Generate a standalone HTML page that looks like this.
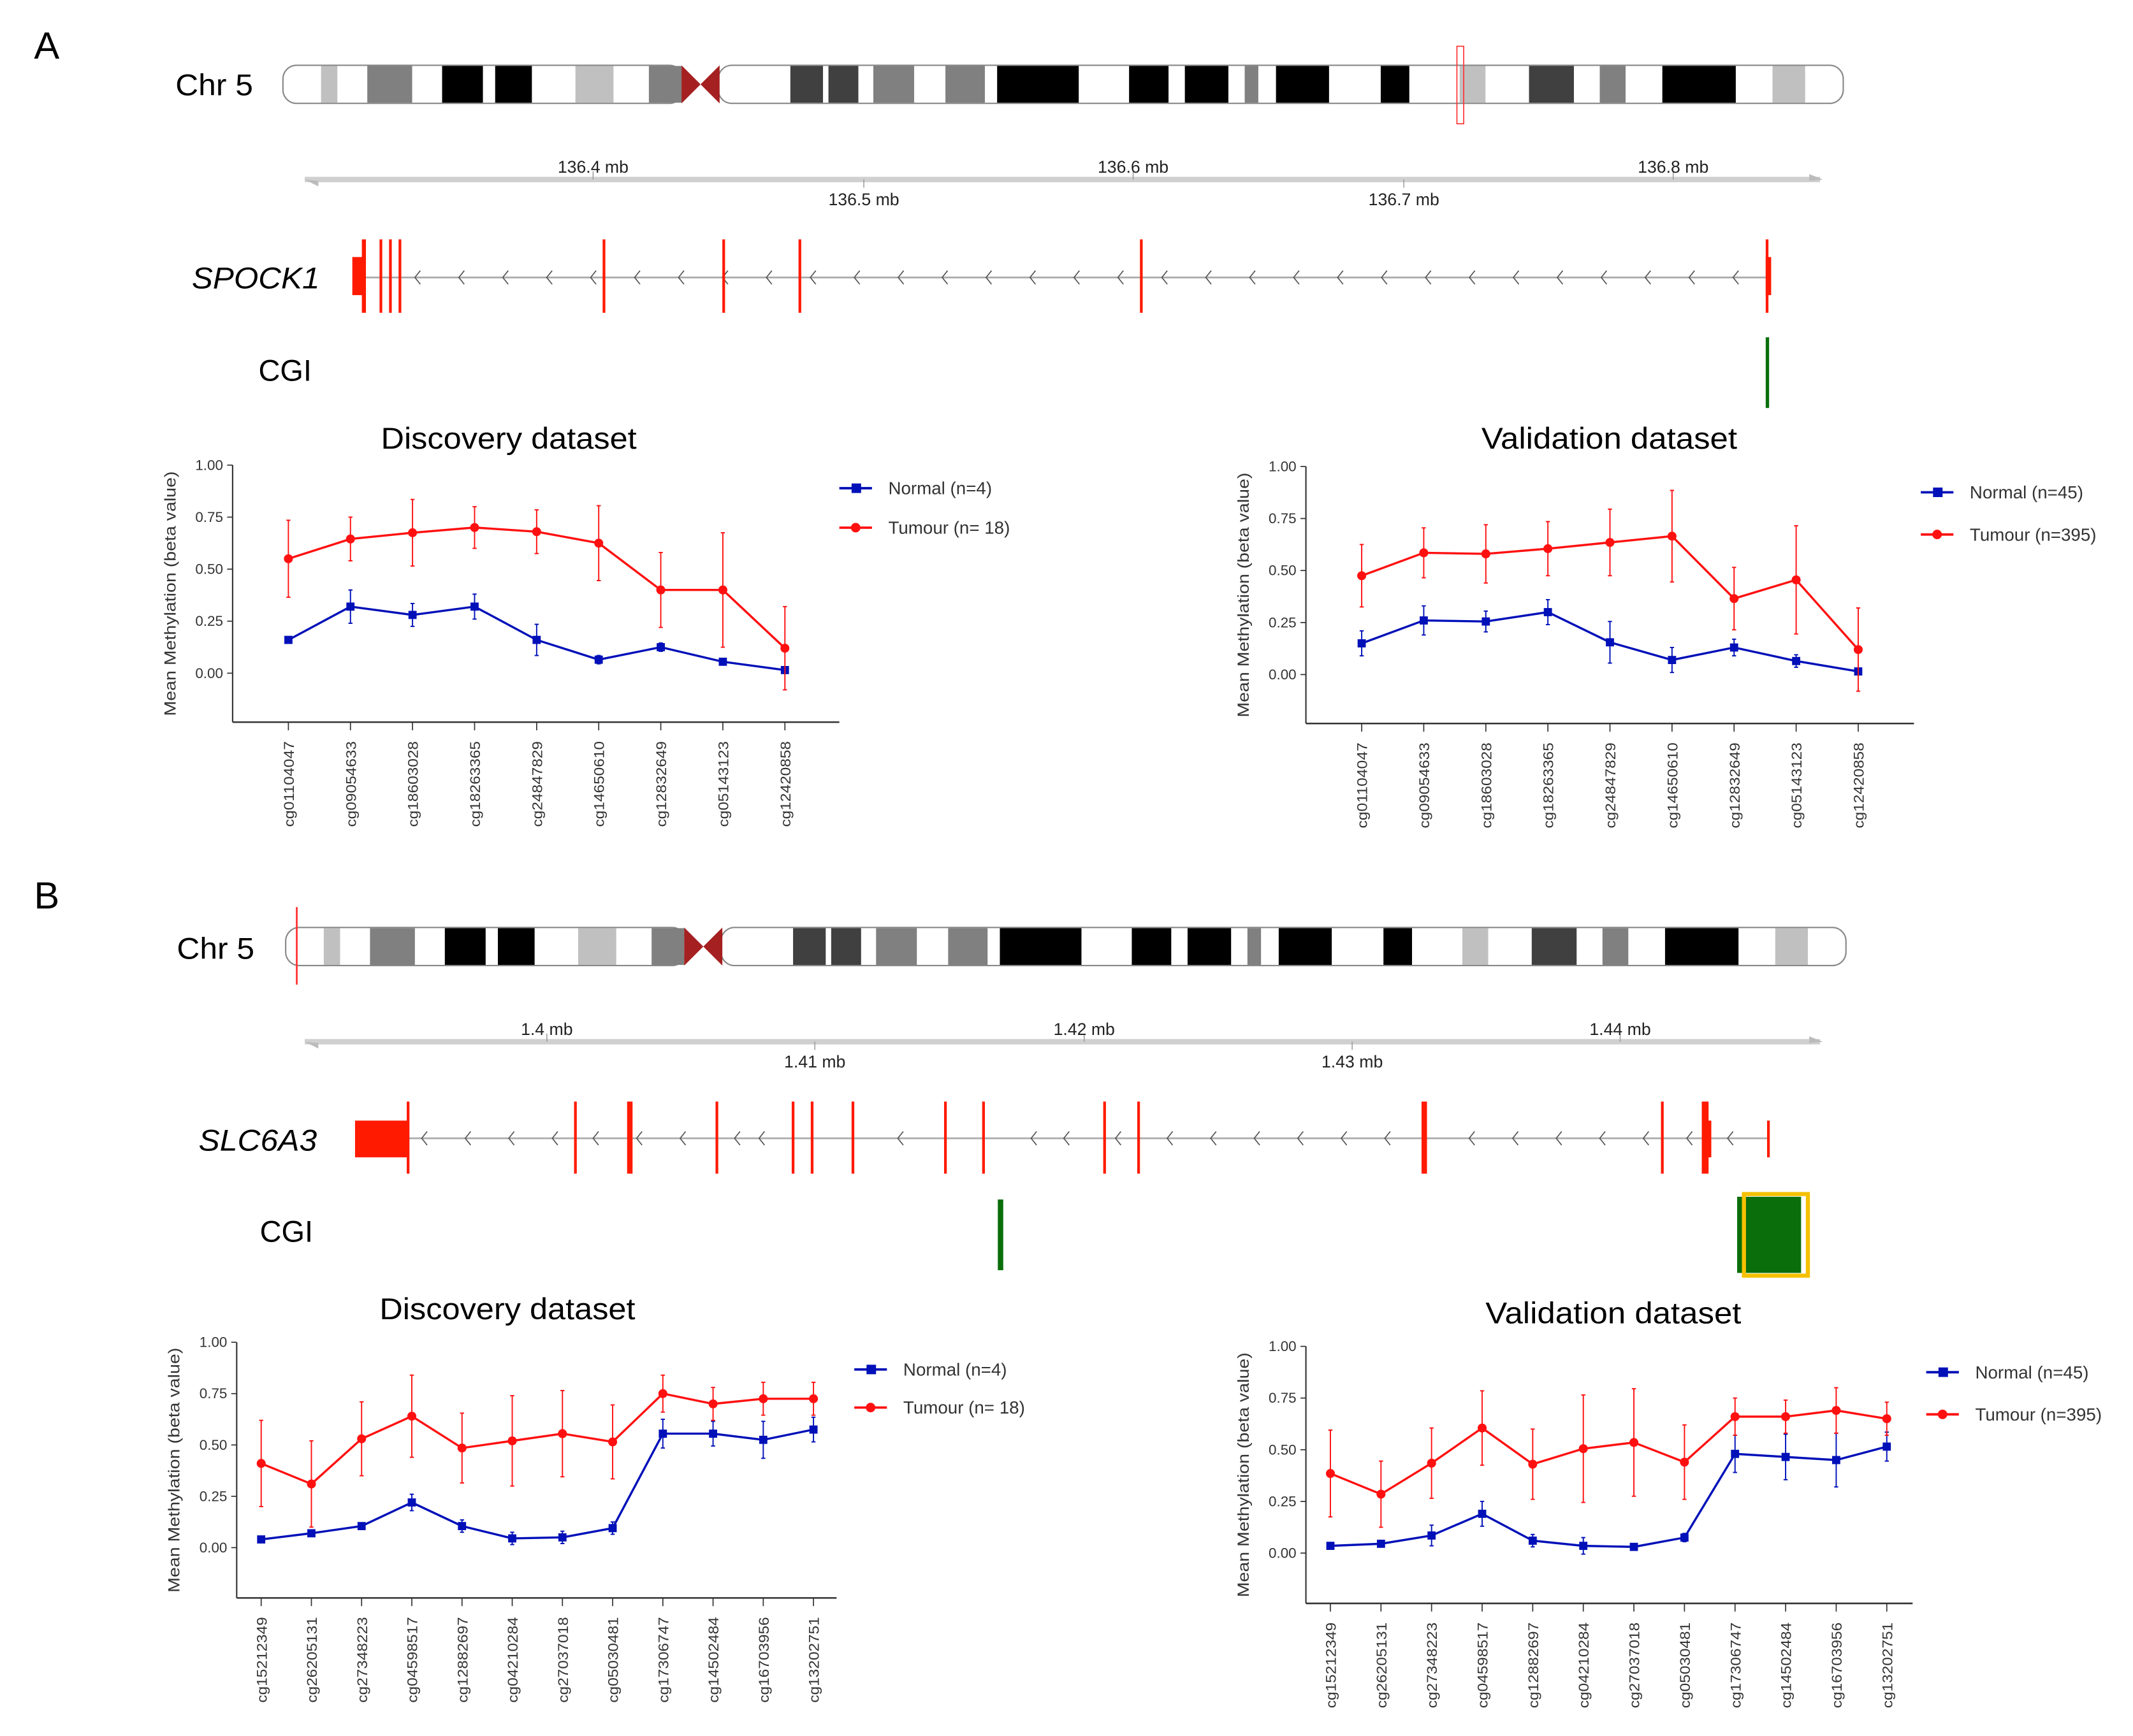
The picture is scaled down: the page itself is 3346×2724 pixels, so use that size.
<!DOCTYPE html>
<html><head><meta charset="utf-8"><style>
html,body{margin:0;padding:0;background:#fff;}
svg{display:block;font-family:"Liberation Sans",Arial,sans-serif;}
</style></head><body>
<svg id="fig" width="3346" height="2724" viewBox="0 0 1568 1276.5" xmlns="http://www.w3.org/2000/svg">
<rect width="1568" height="1276.5" fill="#fff"/>
<g id="root"></g>
</svg>
<script>
// ---- data ----
const catsA = ["cg01104047","cg09054633","cg18603028","cg18263365","cg24847829","cg14650610","cg12832649","cg05143123","cg12420858"];
const catsB = ["cg15212349","cg26205131","cg27348223","cg04598517","cg12882697","cg04210284","cg27037018","cg05030481","cg17306747","cg14502484","cg16703956","cg13202751"];
const yTicks = [0,0.25,0.5,0.75,1.0];
const yTickLabels = ["0.00","0.25","0.50","0.75","1.00"];
const aDiscNormal = [0.16,0.32,0.28,0.32,0.16,0.065,0.125,0.055,0.015];
const aDiscNormalErr = [0.005,0.08,0.055,0.06,0.075,0.02,0.02,0.01,0.01];
const aDiscTumour = [0.55,0.645,0.675,0.70,0.68,0.625,0.40,0.40,0.12];
const aDiscTumourErr = [0.185,0.105,0.16,0.10,0.105,0.18,0.18,0.275,0.20];
const aValNormal = [0.15,0.26,0.255,0.30,0.155,0.07,0.13,0.065,0.015];
const aValNormalErr = [0.06,0.07,0.05,0.06,0.10,0.06,0.04,0.03,0.01];
const aValTumour = [0.475,0.585,0.58,0.605,0.635,0.665,0.365,0.455,0.12];
const aValTumourErr = [0.15,0.12,0.14,0.13,0.16,0.22,0.15,0.26,0.20];
const bDiscNormal = [0.04,0.07,0.105,0.22,0.105,0.045,0.05,0.095,0.555,0.555,0.525,0.575];
const bDiscNormalErr = [0.01,0.01,0.015,0.04,0.03,0.03,0.03,0.03,0.07,0.06,0.09,0.06];
const bDiscTumour = [0.41,0.31,0.53,0.64,0.485,0.52,0.555,0.515,0.75,0.70,0.725,0.725];
const bDiscTumourErr = [0.21,0.21,0.18,0.20,0.17,0.22,0.21,0.18,0.09,0.08,0.08,0.08];
const bValNormal = [0.035,0.045,0.085,0.19,0.06,0.035,0.03,0.075,0.48,0.465,0.45,0.515];
const bValNormalErr = [0.01,0.01,0.05,0.06,0.03,0.04,0.01,0.02,0.09,0.11,0.13,0.07];
const bValTumour = [0.385,0.285,0.435,0.605,0.43,0.505,0.535,0.44,0.66,0.66,0.69,0.65];
const bValTumourErr = [0.21,0.16,0.17,0.18,0.17,0.26,0.26,0.18,0.09,0.08,0.11,0.08];

const NS="http://www.w3.org/2000/svg";
const root=document.getElementById('root');
function mk(tag,attrs,parent,text){const e=document.createElementNS(NS,tag);for(const k in attrs)e.setAttribute(k,attrs[k]);if(text!==undefined)e.textContent=text;(parent||root).appendChild(e);return e;}

// ---- chromosome ideogram ----
const bands=[[236,248,"#c0c0c0"],[270,303,"#808080"],[325,355,"#000"],[364,391,"#000"],[423,451,"#c0c0c0"],[477,501,"#808080"],[581,605,"#404040"],[609,631,"#404040"],[642,672,"#808080"],[695,724,"#808080"],[733,793,"#000"],[830,859,"#000"],[871,903,"#000"],[915,925,"#808080"],[938,977,"#000"],[1015,1036,"#000"],[1073,1092,"#c0c0c0"],[1124,1157,"#404040"],[1176,1195,"#808080"],[1222,1276,"#000"],[1303,1327,"#c0c0c0"]];
function chrom(dx,y,name){
  const g=mk('g',{},root);
  
  
  mk('rect',{x:208+dx,y:y,width:294,height:28,rx:10,fill:'#fff',stroke:'#888','stroke-width':1},g);
  mk('rect',{x:528+dx,y:y,width:827,height:28,rx:10,fill:'#fff',stroke:'#888','stroke-width':1},g);
  bands.forEach(b=>mk('rect',{x:b[0]+dx,y:y+0.5,width:b[1]-b[0],height:27,fill:b[2]},g));
  mk('polygon',{points:`${501+dx},${y} ${515+dx},${y+14} ${501+dx},${y+28}`,fill:'#a52020'},g);
  mk('polygon',{points:`${529+dx},${y} ${515+dx},${y+14} ${529+dx},${y+28}`,fill:'#a52020'},g);
}
function scaleAxis(y,ticks,labels){
  const g=mk('g',{},root);
  
  
  mk('rect',{x:224,y:y-2,width:1114,height:4,fill:'#d0d0d0'},g);
  mk('polygon',{points:`1330,${y-4} 1340,${y} 1330,${y+1}`,fill:'#bbb'},g);
  mk('polygon',{points:`234,${y+1} 224,${y} 234,${y+5}`,fill:'#bbb'},g);
  ticks.forEach((t,i)=>{
    const up=i%2===0;
    mk('line',{x1:t,x2:t,y1:up?y-6:y,y2:up?y:y+6,stroke:'#999','stroke-width':0.7},g);
    mk('text',{x:t,y:up?y-5:y+19,'font-size':12.5,'text-anchor':'middle',fill:'#222'},g,labels[i]);
  });
}
function gene(y,x1,x2,arrowsX,exons,name,label){
  const g=mk('g',{},root);
  
  
  mk('line',{x1:x1,x2:x2,y1:y,y2:y,stroke:'#aaa','stroke-width':1.3},g);
  arrowsX.forEach(ax=>mk('path',{d:`M${ax+4},${y-5} L${ax},${y} L${ax+4},${y+5}`,fill:'none',stroke:'#555','stroke-width':0.8},g));
  exons.forEach(e=>mk('rect',{x:e[0],y:e[2],width:e[1]-e[0],height:e[3]-e[2],fill:'#ff1a00'},g));
  const t=mk('text',{x:label[1],y:label[2],'font-size':22,'font-style':'italic',fill:'#000',textLength:label[3],lengthAdjust:'spacingAndGlyphs'},root,label[0]);
  
  
}
function txt(x,y,s,size,name,extra){
  const t=mk('text',Object.assign({x:x,y:y,'font-size':size,fill:'#000'},extra||{}),root,s);
  
  
  return t;
}

// ---- Panel A ----
txt(25,43,"A",28,'panel-a-label');
txt(129,70,"Chr 5",22,'chromosome-label',{textLength:57,lengthAdjust:'spacingAndGlyphs'});
chrom(0,48,'chromosome-5-ideogram');
mk('rect',{x:1071,y:34,width:5,height:57,fill:'none',stroke:'#f33','stroke-width':0.8});
scaleAxis(132,[436,635,833,1032,1230],["136.4 mb","136.5 mb","136.6 mb","136.7 mb","136.8 mb"]);
const arrA=[];for(let x=305;x<1290;x+=32.3)arrA.push(x);
gene(204,262,1300,arrA,[[259,268,189,217],[266,269,176,230],[279,281,176,230],[286,288,176,230],[293,295,176,230],[443,445,176,230],[531,533,176,230],[587,589,176,230],[838,840,176,230],[1298,1300,176,230],[1298,1302,189,217]],'spock1-gene-track',["SPOCK1",141,212,94]);
txt(190,280,"CGI",22,'cgi-track-label');
mk('rect',{x:1298,y:248,width:2.5,height:52,fill:'#0a6e0a'});

// ---- Panel B ----
txt(25,668,"B",28,'panel-b-label');
txt(130,705,"Chr 5",22,'chromosome-label',{textLength:57,lengthAdjust:'spacingAndGlyphs'});
chrom(2,682,'chromosome-5-ideogram');
mk('rect',{x:217.5,y:667,width:1.3,height:57,fill:'#f33'});
scaleAxis(766,[402,599,797,994,1191],["1.4 mb","1.41 mb","1.42 mb","1.43 mb","1.44 mb"]);
const arrB=[310,342,374,406,436,468,500,540,558,660,758,782,820,858,890,922,954,986,1018,1080,1112,1144,1176,1208,1240,1270];
gene(837,262,1300,arrB,[[261,300,824,851],[299,301,810,863],[422,424,810,863],[461,465,810,863],[526,528,810,863],[582,584,810,863],[596,598,810,863],[626,628,810,863],[694,696,810,863],[722,724,810,863],[811,813,810,863],[836,838,810,863],[1045,1049,810,863],[1221,1223,810,863],[1251,1256,810,863],[1255,1258,824,851],[1299,1301,824,851]],'slc6a3-gene-track',["SLC6A3",146,846,87]);
txt(191,913,"CGI",22,'cgi-track-label');
mk('rect',{x:733.5,y:882,width:4,height:52,fill:'#0a6e0a'});
mk('rect',{x:1277,y:880,width:47,height:56,fill:'#0a6e0a'});
const hl=mk('rect',{x:1282,y:878,width:47,height:60,fill:'none',stroke:'#f5c000','stroke-width':3});



// ---- line charts ----
function chart(cfg){
  const g=mk('g',{},root);
  
  
  const yS=v=>cfg.y0-(cfg.y0-cfg.y1)*v;
  const n=cfg.cats.length;
  const xS=i=>cfg.cx0+(cfg.cx1-cfg.cx0)*i/(n-1);
  const t=mk('text',{x:cfg.titleX,y:cfg.titleY,'font-size':22,'text-anchor':'middle',fill:'#000',textLength:188,lengthAdjust:'spacingAndGlyphs'},g,cfg.title);
  
  
  mk('line',{x1:cfg.ax,x2:cfg.ax,y1:cfg.y1,y2:cfg.bottom,stroke:'#333','stroke-width':1},g);
  mk('line',{x1:cfg.ax,x2:cfg.right,y1:cfg.bottom,y2:cfg.bottom,stroke:'#333','stroke-width':1.2},g);
  yTicks.forEach((v,i)=>{
    mk('line',{x1:cfg.ax-4,x2:cfg.ax,y1:yS(v),y2:yS(v),stroke:'#333','stroke-width':0.8},g);
    const l=mk('text',{x:cfg.ax-7,y:yS(v)+3.5,'font-size':10.5,'text-anchor':'end',fill:'#333'},g,yTickLabels[i]);
    
    
  });
  const yl=mk('text',{transform:`translate(${cfg.ax-42},${(cfg.y1+cfg.bottom)/2}) rotate(-90)`,'font-size':11.5,'text-anchor':'middle',fill:'#333',textLength:180,lengthAdjust:'spacingAndGlyphs'},g,"Mean Methylation (beta value)");
  
  
  cfg.cats.forEach((c,i)=>{
    mk('line',{x1:xS(i),x2:xS(i),y1:cfg.bottom,y2:cfg.bottom+6,stroke:'#333','stroke-width':0.8},g);
    const l=mk('text',{transform:`translate(${xS(i)+4},${cfg.bottom+14}) rotate(-90)`,'font-size':10.5,'text-anchor':'end',fill:'#333',textLength:63,lengthAdjust:'spacingAndGlyphs'},g,c);
    
    
  });
  function series(vals,errs,color,shape,sname){
    const sg=mk('g',{},g);
    
    
    vals.forEach((v,i)=>{
      mk('line',{x1:xS(i),x2:xS(i),y1:yS(v-errs[i]),y2:yS(v+errs[i]),stroke:color,'stroke-width':0.9},sg);
      mk('line',{x1:xS(i)-1.5,x2:xS(i)+1.5,y1:yS(v-errs[i]),y2:yS(v-errs[i]),stroke:color,'stroke-width':0.9},sg);
      mk('line',{x1:xS(i)-1.5,x2:xS(i)+1.5,y1:yS(v+errs[i]),y2:yS(v+errs[i]),stroke:color,'stroke-width':0.9},sg);
    });
    mk('polyline',{points:vals.map((v,i)=>xS(i)+','+yS(v)).join(' '),fill:'none',stroke:color,'stroke-width':1.6},sg);
    vals.forEach((v,i)=>{
      const m = shape==='sq' ? mk('rect',{x:xS(i)-3,y:yS(v)-3,width:6,height:6,fill:color},sg)
                             : mk('circle',{cx:xS(i),cy:yS(v),r:3.3,fill:color},sg);
      
      
    });
  }
  series(cfg.normal,cfg.normalErr,'#0010b8','sq','normal-series');
  series(cfg.tumour,cfg.tumourErr,'#ff1010','ci','tumour-series');
  [[cfg.legY1,'#0010b8','sq',cfg.leg1],[cfg.legY2,'#ff1010','ci',cfg.leg2]].forEach(L=>{
    const lg=mk('g',{},g);
    
    
    mk('line',{x1:cfg.legX,x2:cfg.legX+24,y1:L[0],y2:L[0],stroke:L[1],'stroke-width':1.8},lg);
    if(L[2]==='sq') mk('rect',{x:cfg.legX+9,y:L[0]-3.5,width:7,height:7,fill:L[1]},lg);
    else mk('circle',{cx:cfg.legX+12,cy:L[0],r:3.5,fill:L[1]},lg);
    mk('text',{x:cfg.legX+36,y:L[0]+4.5,'font-size':13,fill:'#333'},lg,L[3]);
  });
}
chart({name:'a-discovery-chart',title:'Discovery dataset',titleX:374,titleY:330,ax:171,y1:342,y0:495,bottom:531,right:617,cx0:212,cx1:577,cats:catsA,normal:aDiscNormal,normalErr:aDiscNormalErr,tumour:aDiscTumour,tumourErr:aDiscTumourErr,legX:617,legY1:359,legY2:388,leg1:'Normal (n=4)',leg2:'Tumour (n= 18)'});
chart({name:'a-validation-chart',title:'Validation dataset',titleX:1183,titleY:330,ax:960,y1:343,y0:496,bottom:532,right:1407,cx0:1001,cx1:1366,cats:catsA,normal:aValNormal,normalErr:aValNormalErr,tumour:aValTumour,tumourErr:aValTumourErr,legX:1412,legY1:362,legY2:393,leg1:'Normal (n=45)',leg2:'Tumour (n=395)'});
chart({name:'b-discovery-chart',title:'Discovery dataset',titleX:373,titleY:970,ax:174,y1:987,y0:1138,bottom:1175,right:615,cx0:192,cx1:598,cats:catsB,normal:bDiscNormal,normalErr:bDiscNormalErr,tumour:bDiscTumour,tumourErr:bDiscTumourErr,legX:628,legY1:1007,legY2:1035,leg1:'Normal (n=4)',leg2:'Tumour (n= 18)'});
chart({name:'b-validation-chart',title:'Validation dataset',titleX:1186,titleY:973,ax:960,y1:990,y0:1142,bottom:1179,right:1406,cx0:978,cx1:1387,cats:catsB,normal:bValNormal,normalErr:bValNormalErr,tumour:bValTumour,tumourErr:bValTumourErr,legX:1416,legY1:1009,legY2:1040,leg1:'Normal (n=45)',leg2:'Tumour (n=395)'});
</script>
</body></html>
